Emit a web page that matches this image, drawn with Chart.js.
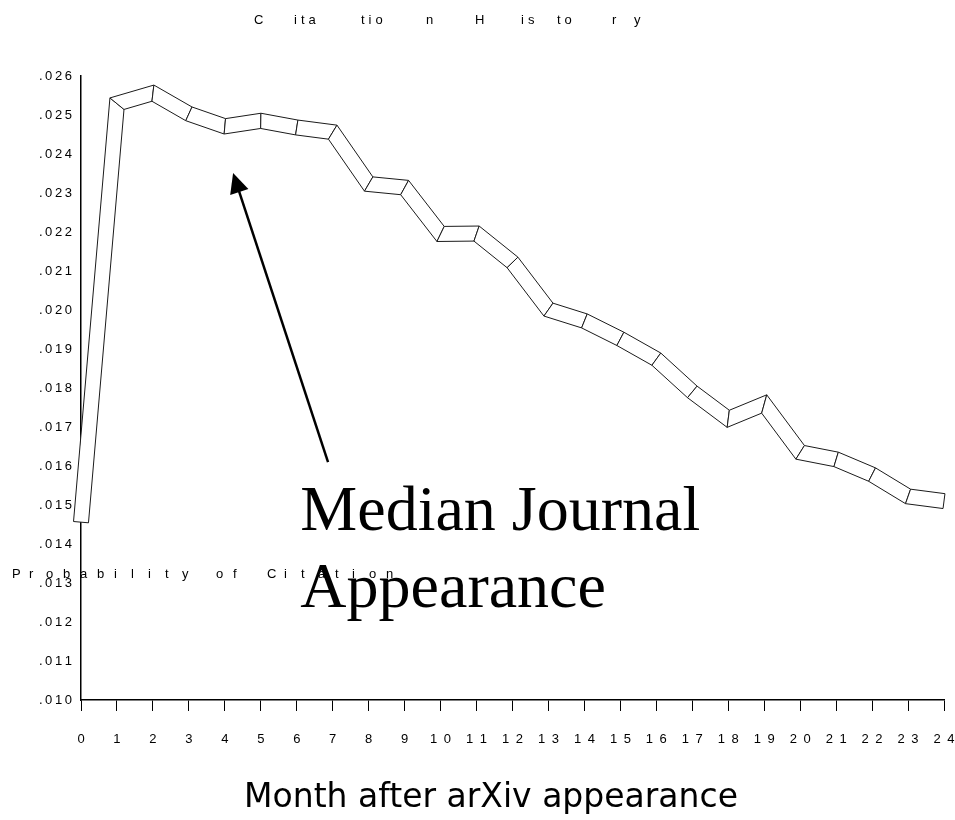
<!DOCTYPE html>
<html>
<head>
<meta charset="utf-8">
<title>Citation History</title>
<script src="https://cdn.jsdelivr.net/npm/chart.js@4.4.1/dist/chart.umd.min.js"></script>
<style>
  html, body { margin: 0; padding: 0; background: #fff; }
  canvas { display: block; }
</style>
</head>
<body>
<canvas id="chart" width="955" height="820"></canvas>
<script>
// months after arXiv appearance
const months = ['0', '1', '2', '3', '4', '5', '6', '7', '8', '9', '10', '11', '12',
    '13', '14', '15', '16', '17', '18', '19', '20', '21', '22', '23', '24'];
// probability of citation
const probability = [0.01456, 0.02529, 0.02556, 0.02503, 0.02471, 0.02485, 0.02468, 0.02456,
    0.02323, 0.02314, 0.02195, 0.02196, 0.02122, 0.02001, 0.01972, 0.01926, 0.01874,
    0.01790, 0.01721, 0.01759, 0.01635, 0.01617, 0.01578, 0.01522, 0.01510];
const yMin = 0.010;
const yMax = 0.026;
const yStep = 0.001;

const titleGroups = [['C', 254], ['ita', 294], ['tio', 361], ['n', 426], ['H', 475], ['is', 521], ['to', 557], ['r', 612], ['y', 634]];
const yTitle = 'Probability of Citation';
const xTitle = 'Month after arXiv appearance';
const noteLines = ['Median Journal', 'Appearance'];

const canvas = document.getElementById('chart');
const ctx = canvas.getContext('2d');

// the 3D-looking ribbon: each segment drawn as an outlined box with mitred seams
const ribbon = {
    id: 'ribbon',
    afterDatasetsDraw(chart) {
        const c = chart.ctx;
        const pts = chart.getDatasetMeta(0).data.map(p => ({ x: p.x, y: p.y }));
        const h = 7.5;
        const segN = [];
        for (let i = 0; i < pts.length - 1; i++) {
            const dx = pts[i + 1].x - pts[i].x;
            const dy = pts[i + 1].y - pts[i].y;
            const len = Math.hypot(dx, dy);
            segN.push({ x: -dy / len, y: dx / len });
        }
        const off = pts.map((p, i) => {
            if (i === 0) return { x: segN[0].x * h, y: segN[0].y * h };
            if (i === pts.length - 1) return { x: segN[i - 1].x * h, y: segN[i - 1].y * h };
            const a = segN[i - 1], b = segN[i];
            let mx = a.x + b.x, my = a.y + b.y;
            const ml = Math.hypot(mx, my);
            mx /= ml; my /= ml;
            const k = h / (mx * a.x + my * a.y);
            return { x: mx * k, y: my * k };
        });
        c.save();
        c.lineWidth = 1;
        c.strokeStyle = '#1a1a1a';
        c.fillStyle = '#fff';
        c.lineJoin = 'miter';
        for (let i = 0; i < pts.length - 1; i++) {
            const p0 = pts[i], p1 = pts[i + 1], o0 = off[i], o1 = off[i + 1];
            c.beginPath();
            c.moveTo(p0.x + o0.x, p0.y + o0.y);
            c.lineTo(p1.x + o1.x, p1.y + o1.y);
            c.lineTo(p1.x - o1.x, p1.y - o1.y);
            c.lineTo(p0.x - o0.x, p0.y - o0.y);
            c.closePath();
            c.fill();
            c.stroke();
        }
        c.restore();
    }
};

// titles, arrow and the big note
const extras = {
    id: 'extras',
    afterDraw(chart) {
        const c = chart.ctx;
        const xs = chart.scales.x;
        const ys = chart.scales.y;
        c.save();
        c.fillStyle = '#000';

        // chart title, widely spaced as in the original
        c.font = '13px "Liberation Sans", Arial, sans-serif';
        c.textBaseline = 'middle';
        c.textAlign = 'left';
        c.letterSpacing = '4px';
        titleGroups.forEach(([t, x]) => c.fillText(t, x, 20));

        // y title, written flat across the plot
        c.letterSpacing = '0px';
        const pitch = 17;
        for (let i = 0; i < yTitle.length; i++) {
            c.fillText(yTitle[i], 12 + i * pitch, 574);
        }

        // arrow towards the peak of the curve
        const tail = { x: xs.getPixelForValue(6.87), y: ys.getPixelForValue(0.01610) };
        const tip = { x: xs.getPixelForValue(4.23), y: ys.getPixelForValue(0.02351) };
        const ang = Math.atan2(tip.y - tail.y, tip.x - tail.x);
        const head = 22;
        c.strokeStyle = '#000';
        c.lineWidth = 2.5;
        c.beginPath();
        c.moveTo(tail.x, tail.y);
        c.lineTo(tip.x - Math.cos(ang) * head * 0.8, tip.y - Math.sin(ang) * head * 0.8);
        c.stroke();
        c.beginPath();
        c.moveTo(tip.x, tip.y);
        c.lineTo(tip.x - head * Math.cos(ang - 0.45), tip.y - head * Math.sin(ang - 0.45));
        c.lineTo(tip.x - head * Math.cos(ang + 0.45), tip.y - head * Math.sin(ang + 0.45));
        c.closePath();
        c.fill();

        // note text
        c.font = '64px "Liberation Serif", "Times New Roman", serif';
        c.textBaseline = 'alphabetic';
        const nx = xs.getPixelForValue(6.1);
        c.fillText(noteLines[0], nx, ys.getPixelForValue(0.014359));
        c.fillText(noteLines[1], nx, ys.getPixelForValue(0.012385));

        // x title
        c.font = '33px "DejaVu Sans", Verdana, sans-serif';
        c.textAlign = 'center';
        c.fillText(xTitle, 491, 807);
        c.restore();
    }
};

const chart = new Chart(ctx, {
    type: 'line',
    data: {
        labels: months,
        datasets: [{
            data: probability,
            borderColor: 'transparent',
            borderWidth: 0,
            pointRadius: 0,
            fill: false
        }]
    },
    options: {
        responsive: false,
        animation: false,
        devicePixelRatio: 1,
        layout: {
            padding: { left: 0, top: 76, right: 11, bottom: 0 }
        },
        plugins: {
            legend: { display: false },
            tooltip: { enabled: false },
            title: { display: false }
        },
        scales: {
            x: {
                type: 'category',
                offset: false,
                grid: {
                    display: true,
                    drawOnChartArea: false,
                    drawTicks: true,
                    tickLength: 11,
                    tickColor: '#000',
                    tickWidth: 1,
                    offset: false
                },
                border: { display: true, color: '#000', width: 1.5 },
                ticks: {
                    color: '#000',
                    padding: 21,
                    maxRotation: 0,
                    autoSkip: false,
                    font: { family: '"Liberation Sans", Arial, sans-serif', size: 13 },
                    callback: (v, i) => months[i].split('').join('\u2002')
                },
                afterFit: (scale) => {
                    scale.height = 120;
                    scale.paddingLeft = 0;
                    scale.paddingRight = 0;
                }
            },
            y: {
                min: yMin,
                max: yMax,
                grid: {
                    display: true,
                    drawOnChartArea: false,
                    drawTicks: false
                },
                border: { display: true, color: '#000', width: 1.5 },
                ticks: {
                    stepSize: yStep,
                    color: '#000',
                    padding: 9,
                    font: { family: '"Liberation Sans", Arial, sans-serif', size: 13 },
                    callback: (v) => v.toFixed(3).slice(1).split('').join('\u2009')
                },
                afterFit: (scale) => {
                    scale.width = 81;
                    scale.paddingTop = 0;
                    scale.paddingBottom = 0;
                }
            }
        }
    },
    plugins: [ribbon, extras]
});
</script>
</body>
</html>
